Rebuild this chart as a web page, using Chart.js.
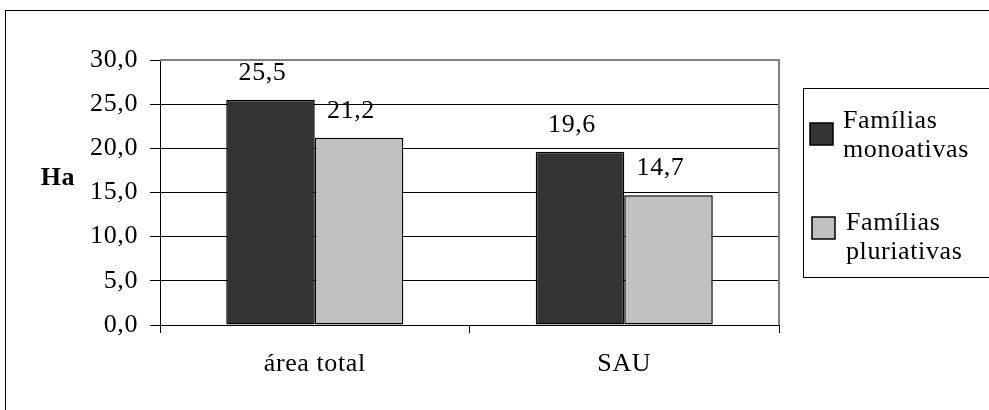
<!DOCTYPE html>
<html>
<head>
<meta charset="utf-8">
<script src="https://cdn.jsdelivr.net/npm/chart.js@4/dist/chart.umd.min.js"></script>
<style>
  html, body { margin: 0; padding: 0; background: #fff; }
  #wrap { width: 989px; height: 410px; }
</style>
</head>
<body>
<div id="wrap"><canvas id="the-graph"></canvas></div>
<script>
var categories = ['área total', 'SAU'];
var monoativas = [25.5, 19.6];
var pluriativas = [21.2, 14.7];
var seriesNames = [['Famílias', 'monoativas'], ['Famílias', 'pluriativas']];
var yTicks = [0, 5, 10, 15, 20, 25, 30];

var FONT = 'Liberation Serif, Times New Roman, serif';
var SPACING = '0.6px';

function fmt(v) {
  return v.toFixed(1).replace('.', ',');
}

var frame = {
  id: 'frame',
  beforeUpdate: function (chart) { chart.ctx.letterSpacing = SPACING; },
  beforeDraw: function (chart) {
    var ctx = chart.ctx;
    ctx.letterSpacing = SPACING;
    ctx.save();
    ctx.strokeStyle = '#000';
    ctx.lineWidth = 1;
    ctx.strokeRect(5.5, 10.5, 1000, 500);
    ctx.restore();
  },
  afterDraw: function (chart) {
    var ctx = chart.ctx, a = chart.chartArea;
    ctx.save();
    // grey plot frame, top and right
    ctx.strokeStyle = '#808080';
    ctx.lineWidth = 2;
    ctx.beginPath();
    ctx.moveTo(a.left, a.top);
    ctx.lineTo(a.right, a.top);
    ctx.lineTo(a.right, a.bottom);
    ctx.stroke();

    // axis title
    ctx.fillStyle = '#000';
    ctx.font = 'bold 26px ' + FONT;
    ctx.textAlign = 'center';
    ctx.textBaseline = 'alphabetic';
    ctx.fillText('Ha', 58, 185);

    // data labels
    ctx.font = '26px ' + FONT;
    chart.data.datasets.forEach(function (ds, i) {
      chart.getDatasetMeta(i).data.forEach(function (bar, j) {
        ctx.fillText(fmt(ds.data[j]), bar.x - 8, bar.y - 20);
      });
    });

    // legend
    ctx.strokeStyle = '#000';
    ctx.lineWidth = 1;
    ctx.strokeRect(803.5, 88.5, 300, 189);
    var boxTop = [123, 217], boxLeft = [810, 812], textX = [843, 846], base = [128, 230];
    ctx.textAlign = 'left';
    chart.data.datasets.forEach(function (ds, i) {
      ctx.fillStyle = ds.backgroundColor;
      ctx.fillRect(boxLeft[i], boxTop[i], 23, 22);
      ctx.lineWidth = 1.5;
      ctx.strokeRect(boxLeft[i], boxTop[i], 23, 22);
      ctx.fillStyle = '#000';
      seriesNames[i].forEach(function (line, k) {
        ctx.fillText(line, textX[i], base[i] + k * 29);
      });
    });
    ctx.restore();
  }
};

new Chart(document.getElementById('the-graph'), {
  type: 'bar',
  data: {
    labels: categories,
    datasets: [
      { label: 'Famílias monoativas', data: monoativas, backgroundColor: '#333333',
        borderColor: '#000', borderWidth: 1.5, borderSkipped: false },
      { label: 'Famílias pluriativas', data: pluriativas, backgroundColor: '#c0c0c0',
        borderColor: '#000', borderWidth: 1.5, borderSkipped: false }
    ]
  },
  options: {
    responsive: true,
    maintainAspectRatio: false,
    animation: false,
    events: [],
    layout: { padding: { top: 60, right: 210, bottom: 0, left: 0 } },
    datasets: { bar: { categoryPercentage: 0.572, barPercentage: 1 } },
    plugins: { legend: { display: false }, tooltip: { enabled: false } },
    scales: {
      x: {
        afterFit: function (s) { s.height = 85; },
        grid: { drawOnChartArea: false, drawTicks: true, tickLength: 8, color: '#000' },
        border: { color: '#000', width: 1 },
        ticks: { color: '#000', padding: 16, font: { family: FONT, size: 26 } }
      },
      y: {
        min: 0,
        max: 30,
        afterFit: function (s) { s.width = 160; },
        afterBuildTicks: function (s) {
          s.ticks = yTicks.map(function (v) { return { value: v }; });
        },
        grid: { color: '#000', tickLength: 10 },
        border: { color: '#000', width: 1 },
        ticks: {
          color: '#000', padding: 12, font: { family: FONT, size: 26 },
          callback: function (v) { return fmt(v); }
        }
      }
    }
  },
  plugins: [frame]
});
</script>
</body>
</html>
